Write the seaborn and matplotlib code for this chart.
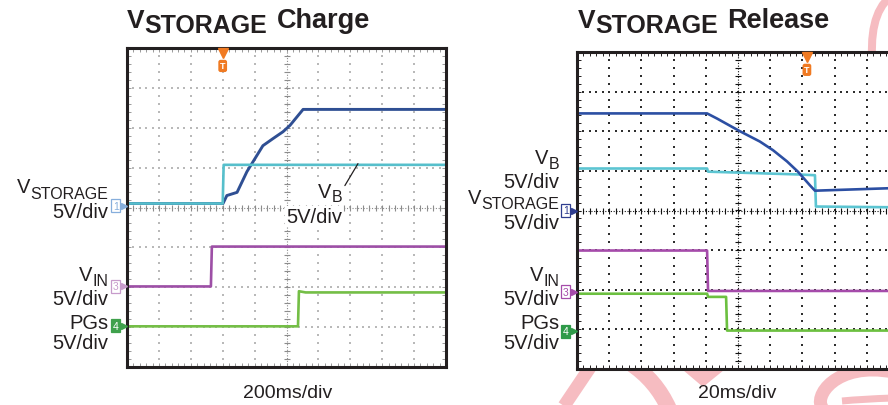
import numpy as np
import matplotlib
matplotlib.use("Agg")
import matplotlib.pyplot as plt
import seaborn as sns
from matplotlib.transforms import Affine2D, ScaledTranslation
from matplotlib.path import Path
from matplotlib.patches import PathPatch, Polygon
from matplotlib.ticker import MultipleLocator

# ---------------- trace data (screen divisions: x 0..10, y -4..4) ----------------
# VSTORAGE charge, 200 ms/div
charge_vstor_t = [0.0, 3.01, 3.13, 3.45, 3.76, 4.26, 4.58, 4.89, 5.11, 5.52, 10.0]
charge_vstor_v = [0.10, 0.10, 0.30, 0.38, 0.90, 1.55, 1.73, 1.90, 2.06, 2.46, 2.46]
charge_vb_t = [0.0, 3.00, 3.03, 10.0]
charge_vb_v = [0.10, 0.10, 1.07, 1.07]
charge_vin_t = [0.0, 2.63, 2.66, 10.0]
charge_vin_v = [-1.98, -1.98, -0.98, -0.98]
charge_pg_t = [0.0, 5.36, 5.39, 5.60, 10.0]
charge_pg_v = [-2.98, -2.98, -2.10, -2.13, -2.13]
charge_trigger = 3.0
charge_ground = [0.05, -1.98, -2.97]          # channel 1, 3, 4 reference levels

# VSTORAGE release, 20 ms/div
release_vstor_t = [0.0, 4.04, 4.35, 5.06, 5.68, 6.09, 6.52, 6.86, 7.24, 7.39, 10.0]
release_vstor_v = [2.45, 2.45, 2.32, 2.00, 1.74, 1.52, 1.24, 0.98, 0.63, 0.50, 0.57]
release_vb_t = [0.0, 4.04, 4.07, 6.86, 7.39, 7.42, 10.0]
release_vb_v = [1.06, 1.06, 0.98, 0.91, 0.89, 0.10, 0.08]
release_vin_t = [0.0, 4.04, 4.07, 10.0]
release_vin_v = [-1.01, -1.01, -2.03, -2.03]
release_pg_t = [0.0, 4.04, 4.07, 4.63, 4.66, 10.0]
release_pg_v = [-2.10, -2.10, -2.18, -2.18, -3.03, -3.03]
release_trigger = 7.14
release_ground = [0.0, -2.05, -3.05]

channel_names = ["1", "3", "4"]
timebase_labels = ["200ms/div", "20ms/div"]

# ---------------- styling ----------------
sns.set_theme(style="white")
plt.rcParams["font.family"] = ["Liberation Sans", "DejaVu Sans"]
INK = "#231F20"
PINK = "#F6BCC1"
ORANGE = "#F07A22"

W, H = 888, 406
fig = plt.figure(figsize=(W / 100, H / 100), dpi=100)
fig.patch.set_facecolor("white")
PX = Affine2D().scale(1 / W, -1 / H).translate(0, 1) + fig.transFigure
renderer = fig.canvas.get_renderer()


def width_px(t):
    return t.get_window_extent(renderer).width


def ax_at(x0, y0, x1, y1):
    return fig.add_axes([x0 / W, 1 - y1 / H, (x1 - x0) / W, (y1 - y0) / H])


# ---------------- background stroke decoration ----------------
def stroke(pts, codes, lw_px):
    fig.add_artist(PathPatch(Path(pts, codes), transform=PX, fill=False,
                             ec=PINK, lw=lw_px * 0.72, capstyle="butt", zorder=-10))


M, L, C3, C4 = Path.MOVETO, Path.LINETO, Path.CURVE3, Path.CURVE4
stroke([(593, 364), (562, 410)], [M, L], 13)
stroke([(630, 364), (656, 381), (669, 410)], [M, C3, C3], 16)
fig.add_artist(Polygon([(683, 371), (724, 371), (703, 388)], closed=True,
                       transform=PX, fc=PINK, ec="none", zorder=-10))
stroke([(893, 373), (836, 362), (812, 398), (823, 410)], [M, C4, C4, C4], 13)
stroke([(842, 402), (862, 400), (893, 399)], [M, C3, C3], 7)
stroke([(872, 58), (870, 8), (896, -6)], [M, C3, C3], 8)


# ---------------- scope panels ----------------
def scope_panel(ax, grid_col, center_col, tick_col):
    ax.set_facecolor("white")
    ax.set_xlim(0, 10)
    ax.set_ylim(-4, 4)
    ax.xaxis.set_major_locator(MultipleLocator(1))
    ax.yaxis.set_major_locator(MultipleLocator(1))
    ax.xaxis.set_minor_locator(MultipleLocator(0.2))
    ax.yaxis.set_minor_locator(MultipleLocator(0.2))
    ax.tick_params(which="both", direction="in", top=True, right=True,
                   bottom=True, left=True, labelbottom=False, labelleft=False,
                   length=3, width=0.7, color=tick_col)
    for s in ax.spines.values():
        s.set_linewidth(2.2)
        s.set_color(INK)
        s.set_zorder(6)
    # dotted graticule
    ys = np.arange(-4, 4.001, 0.2)
    xs = np.arange(0, 10.001, 0.2)
    for k in range(1, 10):
        if k != 5:
            ax.scatter(np.full_like(ys, k), ys, s=1.3, marker="s", color=grid_col,
                       linewidths=0, zorder=1)
    for k in range(-3, 4):
        if k != 0:
            ax.scatter(xs, np.full_like(xs, k), s=1.3, marker="s", color=grid_col,
                       linewidths=0, zorder=1)
    # centre axes with minor ticks
    ax.axvline(5, color=center_col, lw=0.8, ls=(0, (1, 1.5)), zorder=1)
    ax.axhline(0, color=center_col, lw=0.8, ls=(0, (1, 1.5)), zorder=1)
    ax.plot(np.full_like(ys, 5), ys, ls="none", marker="_", ms=4, mew=0.8,
            color=center_col, zorder=1)
    ax.plot(xs, np.zeros_like(xs), ls="none", marker="|", ms=4, mew=0.8,
            color=center_col, zorder=1)


def trace(ax, t, v, color, lw=1.9):
    sns.lineplot(x=np.asarray(t), y=np.asarray(v), ax=ax, color=color, lw=lw,
                 sort=False, estimator=None, zorder=4)


def trigger_mark(ax, x):
    ax.plot([x], [3.88], marker="v", ms=6.5, color=ORANGE, clip_on=False, zorder=7)
    ax.text(x, 3.55, "T", ha="center", va="center", fontsize=6.5, color="white",
            fontweight="bold", zorder=7,
            bbox=dict(boxstyle="round,pad=0.18,rounding_size=0.25", fc=ORANGE, ec="none"))


def channel_marks(ax, levels, styles):
    # small pointer just left of the frame, flag box with channel number beside it
    tip = ax.get_yaxis_transform() + ScaledTranslation(-3 / 100, 0, fig.dpi_scale_trans)
    for name, lev, (fc, ec, tc) in zip(channel_names, levels, styles):
        ax.annotate(name, xy=(0, lev), xycoords=("axes fraction", "data"),
                    xytext=(-6, 0), textcoords="offset points", ha="right",
                    va="center", fontsize=7.5, color=tc, annotation_clip=False,
                    bbox=dict(boxstyle="square,pad=0.15", fc=fc, ec=ec, lw=0.9))
        ax.plot([0], [lev], marker=">", ms=4.5, color=ec, clip_on=False, zorder=7,
                transform=tip)


# left: charge
axL = ax_at(127, 49, 446, 368)
scope_panel(axL, "#B9B9B9", "#8C8C8C", "#9A9A9A")
trace(axL, charge_vin_t, charge_vin_v, "#9D4FA6")
trace(axL, charge_pg_t, charge_pg_v, "#74BE46")
trace(axL, charge_vstor_t, charge_vstor_v, "#2F4F93", lw=2.1)
trace(axL, charge_vb_t, charge_vb_v, "#56BFCB")
trigger_mark(axL, charge_trigger)
channel_marks(axL, charge_ground, [("white", "#86AEDC", "#86AEDC"),
                                   ("white", "#C79BCB", "#C79BCB"),
                                   ("#3FA14C", "#3FA14C", "white")])

# right: release
axR = ax_at(577, 53, 899, 370)
scope_panel(axR, "#2E2E2E", "#111111", INK)
trace(axR, release_vin_t, release_vin_v, "#A54BAA")
trace(axR, release_pg_t, release_pg_v, "#6CC040")
trace(axR, release_vb_t, release_vb_v, "#5CC5D2")
trace(axR, release_vstor_t, release_vstor_v, "#2C4FA3")
trigger_mark(axR, release_trigger)
channel_marks(axR, release_ground, [("white", "#2E3D8F", "#2E3D8F"),
                                    ("white", "#A54BAA", "#A54BAA"),
                                    ("#2E9A48", "#2E9A48", "white")])

# in-panel V_B callout on the charge panel
axL.plot([6.83, 7.24], [0.55, 1.10], color=INK, lw=0.9, zorder=5)


# ---------------- text ----------------
def label_right(x, y, main, sub=None, y_sub=None, size=14.5, subsize=11.5, box=False):
    kw = dict(transform=PX, ha="right", va="baseline", color=INK, zorder=8)
    if box:
        kw["bbox"] = dict(boxstyle="square,pad=0.05", fc="white", ec="none")
    if sub:
        ts = fig.text(x, y_sub, sub, fontsize=subsize, **kw)
        x -= width_px(ts)
    fig.text(x, y, main, fontsize=size, **kw)


def title_left(x, y, word):
    tv = fig.text(x, y, "V", transform=PX, ha="left", va="baseline",
                  fontsize=19, fontweight="bold", color=INK)
    x += width_px(tv)
    ts = fig.text(x, y + 5, "STORAGE", transform=PX, ha="left", va="baseline",
                  fontsize=18, fontweight="bold", color=INK)
    x += width_px(ts) + 9
    fig.text(x, y, word, transform=PX, ha="left", va="baseline",
             fontsize=19.5, fontweight="bold", color=INK)


title_left(127, 28, "Charge")
title_left(578, 28, "Release")

# charge panel labels
label_right(108, 193, "V", "STORAGE", 199)
label_right(108, 218, "5V/div")
label_right(108, 281, "V", "IN", 286)
label_right(108, 305, "5V/div")
label_right(108, 329, "PGs")
label_right(108, 349, "5V/div")
label_right(342, 198, "V", "B", 202, box=True)
label_right(342, 223, "5V/div", box=True)

# release panel labels
label_right(559, 164, "V", "B", 169)
label_right(559, 188, "5V/div")
label_right(559, 204, "V", "STORAGE", 209)
label_right(559, 229, "5V/div")
label_right(559, 281, "V", "IN", 286)
label_right(559, 305, "5V/div")
label_right(559, 329, "PGs")
label_right(559, 349, "5V/div")

fig.text(288, 398, timebase_labels[0], transform=PX, ha="center", va="baseline",
         fontsize=14, color=INK)
fig.text(737, 398, timebase_labels[1], transform=PX, ha="center", va="baseline",
         fontsize=14, color=INK)

fig.savefig("out.png", dpi=100, facecolor="white")
